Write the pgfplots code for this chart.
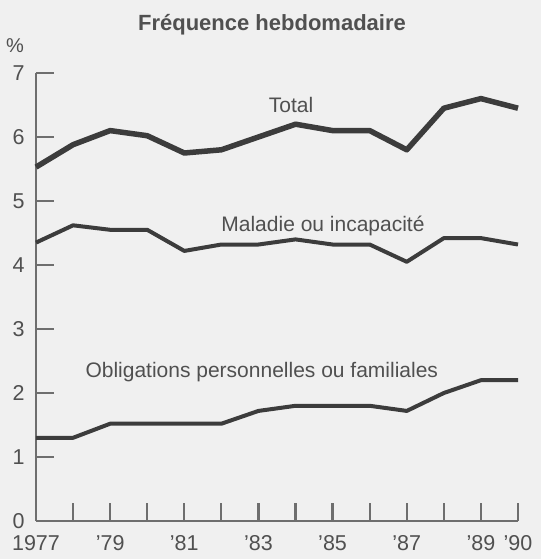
\documentclass[border=0pt]{standalone}
\usepackage{pgfplots}
\pgfplotsset{compat=1.18}
\usepackage{fontspec}
\setmainfont{Liberation Sans}
\definecolor{bg}{HTML}{F0F0F0}
\definecolor{ln}{HTML}{3C3C3C}
\definecolor{ax}{HTML}{6E6E6E}
\definecolor{tx}{HTML}{505050}
\begin{document}
\begin{tikzpicture}
\fill[bg] (0,0) rectangle (541bp,559bp);
\node[font=\fontsize{22bp}{26bp}\selectfont\bfseries, text=tx] at (272bp,534bp) {Fréquence hebdomadaire};
\node[font=\fontsize{20bp}{24bp}\selectfont, text=tx] at (15bp,513bp) {\%};
\begin{axis}[
  at={(36bp,38bp)}, anchor=south west,
  scale only axis, width=482bp, height=448bp,
  xmin=1977, xmax=1990, ymin=0, ymax=7,
  axis x line=bottom, axis y line=left,
  axis line style={-, ax, line width=2.2bp},
  xtick={1978,...,1990},
  extra x ticks={1977}, extra x tick style={tick style={draw=none}},
  extra x tick labels={1977},
  xticklabels={,'79,,'81,,'83,,'85,,'87,,'89,'90},
  ytick={0,...,7},
  tick style={ax, line width=2.2bp},
  major tick length=18bp,
  xtick align=inside, ytick align=inside,
  tick label style={font=\fontsize{21.5bp}{25bp}\selectfont, text=tx},
  /pgf/number format/assume math mode=true,
  xticklabel style={yshift=-11bp},
  yticklabel style={xshift=-8bp},
  clip=false,
]
\addplot[ln, line width=5.5bp, line join=round] coordinates {
(1977,5.53) (1978,5.88) (1979,6.1) (1980,6.02) (1981,5.75) (1982,5.8) (1983,6.0) (1984,6.2) (1985,6.1) (1986,6.1) (1987,5.8) (1988,6.45) (1989,6.6) (1990,6.45)};
\addplot[ln, line width=4bp, line join=round] coordinates {
(1977,4.35) (1978,4.62) (1979,4.55) (1980,4.55) (1981,4.22) (1982,4.32) (1983,4.32) (1984,4.4) (1985,4.32) (1986,4.32) (1987,4.05) (1988,4.42) (1989,4.42) (1990,4.32)};
\addplot[ln, line width=4bp, line join=round] coordinates {
(1977,1.3) (1978,1.3) (1979,1.52) (1980,1.52) (1981,1.52) (1982,1.52) (1983,1.72) (1984,1.8) (1985,1.8) (1986,1.8) (1987,1.72) (1988,2.0) (1989,2.2) (1990,2.2)};
\node[font=\fontsize{21bp}{25bp}\selectfont, text=tx] at (axis cs:1983.88,6.5) {Total};
\node[font=\fontsize{21bp}{25bp}\selectfont, text=tx] at (axis cs:1984.74,4.61) {Maladie ou incapacité};
\node[font=\fontsize{21bp}{25bp}\selectfont, text=tx] at (axis cs:1983.09,2.33) {Obligations personnelles ou familiales};
\end{axis}
\end{tikzpicture}
\end{document}
